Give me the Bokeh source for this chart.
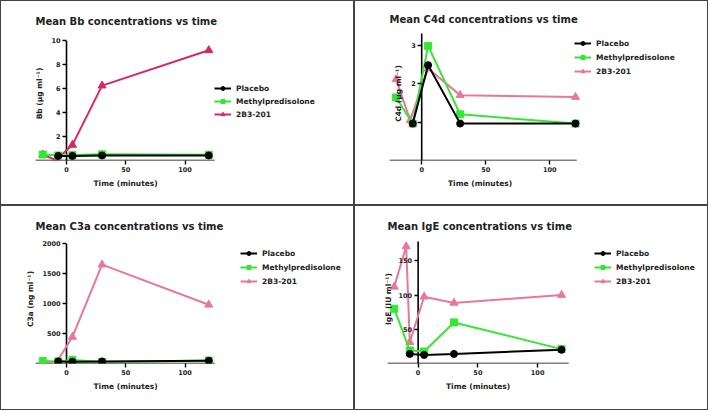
from bokeh.plotting import figure
from bokeh.layouts import gridplot
from bokeh.models import Legend, LegendItem, FixedTicker, Range1d, Title
from bokeh.embed import file_html
from bokeh.resources import INLINE

FONT = "DejaVu Sans"
SERIES = ["Placebo", "Methylpredisolone", "2B3-201"]

# ---- Bb ----
bb_t_pl = [-7, 5, 30, 120]
bb_pl = [0.38, 0.38, 0.42, 0.42]
bb_t_mp = [-20, -7, 5, 30, 120]
bb_mp = [0.5, 0.42, 0.45, 0.52, 0.48]
bb_t_2b = [-20, -9, 5, 30, 120]
bb_2b = [0.48, 0.05, 1.3, 6.25, 9.2]
bb_yticks = [2, 4, 6, 8, 10]

# ---- C4d ----
c4_t_pl = [-7, 5, 30, 120]
c4_pl = [0.96, 2.48, 0.96, 0.96]
c4_t_mp = [-20, -7, 5, 30, 120]
c4_mp = [1.64, 0.96, 2.98, 1.2, 0.96]
c4_t_2b = [-20, -9, 5, 30, 120]
c4_2b = [2.11, 1.05, 2.39, 1.70, 1.65]
c4_yticks = [1, 2, 3]

# ---- C3a ----
c3_t_pl = [-7, 5, 30, 120]
c3_pl = [35, 30, 35, 45]
c3_t_mp = [-20, -7, 5, 30, 120]
c3_mp = [40, 35, 60, 25, 50]
c3_t_2b = [-20, -9, 5, 30, 120]
c3_2b = [20, 5, 443, 1650, 980]
c3_yticks = [500, 1000, 1500, 2000]

# ---- IgE ----
ig_t_pl = [-7, 5, 30, 120]
ig_pl = [14, 12.5, 14, 20]
ig_t_mp = [-20, -7, 5, 30, 120]
ig_mp = [80, 19, 17.5, 60, 21]
ig_t_2b = [-20, -10, -7, 5, 30, 120]
ig_2b = [112, 171, 31, 97.5, 88.5, 100]
ig_yticks = [50, 100, 150]

xticks = [0, 50, 100]

W, H = 354, 205          # element size (1px border drawn inside)
WC, HC = W - 2, H - 2    # canvas size
GREEN = "#33e833"
TEXT = "#222222"


def panel(title, ylabel, xr, xpx, ymax, ypx, frame_top, yticks, data, pink,
          leg_left, leg_top, leg_spacing, title_center, xlab_center, ylab_standoff):
    xmin, xmax = xr
    lpx, rpx = xpx
    tpx, bpx = ypx
    new_left, new_right = 4, WC - 3
    sx = (rpx - lpx) / (xmax - xmin)
    xstart = xmin - (lpx - new_left) / sx
    xend = xmax + (new_right - rpx) / sx
    sy = (bpx - tpx) / ymax
    ytop = ymax + (tpx - frame_top) / sy

    p = figure(width=W, height=H, output_backend="svg", toolbar_location=None,
               x_range=Range1d(xstart, xend), y_range=Range1d(0, ytop),
               min_border_left=new_left, min_border_right=WC - new_right,
               min_border_top=frame_top, min_border_bottom=HC - bpx)
    p.outline_line_color = None
    p.xgrid.visible = False
    p.ygrid.visible = False
    p.styles = {"border": "1px solid #444"}

    p.title.text = title
    p.title.text_font = FONT
    p.title.text_font_size = "10px"
    p.title.text_font_style = "bold"
    p.title.text_color = TEXT
    p.title.align = "left"
    p.title.offset = lpx - new_left
    p.title.standoff = max(0, frame_top - 3 - title_center)

    for ax in (p.xaxis[0], p.yaxis[0]):
        ax.axis_line_color = None
        ax.major_tick_line_width = 1.4
        ax.major_tick_line_color = "black"
        ax.major_tick_out = 4
        ax.major_tick_in = 0
        ax.minor_tick_out = 0
        ax.minor_tick_in = 0
        ax.major_label_text_font = FONT
        ax.major_label_text_font_size = "6.5px"
        ax.major_label_text_font_style = "bold"
        ax.major_label_text_color = TEXT
        ax.major_label_standoff = 2
        ax.axis_label_text_font = FONT
        ax.axis_label_text_font_size = "7.5px"
        ax.axis_label_text_font_style = "bold"
        ax.axis_label_text_color = TEXT
        ax.axis_label_standoff = ylab_standoff
    p.xaxis.ticker = FixedTicker(ticks=xticks)
    p.yaxis.ticker = FixedTicker(ticks=yticks)
    p.yaxis.axis_label = ylabel
    p.yaxis.fixed_location = 0

    # x-axis title, centred under the drawn axis span
    p.add_layout(Title(text="Time (minutes)", align="left", text_font=FONT,
                       text_font_size="7.5px", text_font_style="bold",
                       text_color=TEXT, standoff=4,
                       offset=xlab_center - 32 - new_left), "below")

    # axis lines (x axis spans the data span, y axis from 0 to its top tick)
    p.segment(x0=[xmin], y0=[0], x1=[xmax], y1=[0], line_color="black", line_width=1.6)
    p.segment(x0=[0], y0=[0], x1=[0], y1=[ymax], line_color="black", line_width=1.6)

    cols = ["black", GREEN, pink]
    marks = ["circle", "square", "triangle"]
    sizes = [7, 7, 8]
    rends = {}
    for i in (2, 1, 0):
        t, v = data[i]
        lr = p.line(t, v, line_color=cols[i], line_width=2)
        sr = p.scatter(t, v, marker=marks[i], size=sizes[i],
                       fill_color=cols[i], line_color=cols[i])
        rends[i] = [lr, sr]

    items = [LegendItem(label=SERIES[i], renderers=rends[i]) for i in range(3)]
    leg_h = 3 * 10 + 2 * leg_spacing
    leg = Legend(items=items, location=(leg_left - new_left, bpx - (leg_top + leg_h)),
                 padding=0, margin=0,
                 spacing=leg_spacing, glyph_width=17, glyph_height=10,
                 label_height=10, label_standoff=5,
                 label_text_font=FONT, label_text_font_size="7.5px",
                 label_text_font_style="bold", label_text_color=TEXT,
                 border_line_color=None, background_fill_alpha=0)
    p.add_layout(leg)
    return p


p1 = panel("Mean Bb concentrations vs time", "Bb (µg ml⁻¹)", (-26, 125), (34, 212),
           10, (39, 157), 25, bb_yticks,
           [(bb_t_pl, bb_pl), (bb_t_mp, bb_mp), (bb_t_2b, bb_2b)], "#d8266a",
           213, 80, 3, 22, 124, 4)
p2 = panel("Mean C4d concentrations vs time", "C4d (µg ml⁻¹)", (-25, 121), (34, 220),
           3.3, (32, 157), 25, c4_yticks,
           [(c4_t_pl, c4_pl), (c4_t_mp, c4_mp), (c4_t_2b, c4_2b)], "#e8779c",
           219, 35, 4, 18, 124.5, 5)
p3 = panel("Mean C3a concentrations vs time", "C3a (ng ml⁻¹)", (-26, 125), (34, 212),
           2000, (37, 155), 28, c3_yticks,
           [(c3_t_pl, c3_pl), (c3_t_mp, c3_mp), (c3_t_2b, c3_2b)], "#e8779c",
           239, 40, 4, 19, 124, 4)
p4 = panel("Mean IgE concentrations vs time", "IgE (IU ml⁻¹)", (-25.5, 126), (32, 212),
           178, (35, 155), 28, ig_yticks,
           [(ig_t_pl, ig_pl), (ig_t_mp, ig_mp), (ig_t_2b, ig_2b)], "#e8779c",
           239, 40, 4, 19, 122.5, 3)

grid = gridplot([[p1, p2], [p3, p4]], toolbar_location=None)
open("out.html", "w").write(file_html(grid, INLINE))
